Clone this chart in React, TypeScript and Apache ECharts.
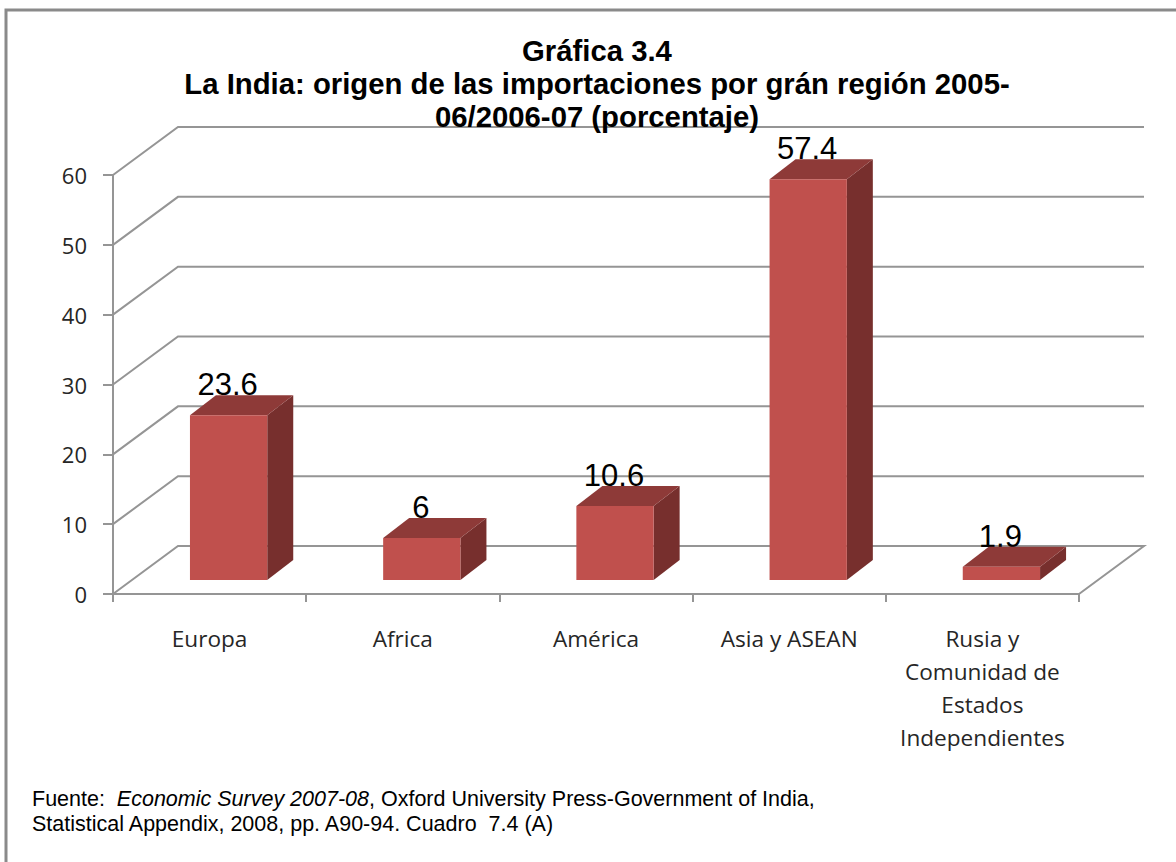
import React, { useEffect, useRef } from "react";
import * as echarts from "echarts";

const categories = ["Europa", "Africa", "América", "Asia y ASEAN", "Rusia y\nComunidad de\nEstados\nIndependientes"];
const values = [23.6, 6, 10.6, 57.4, 1.9];
const yTicks = [0, 10, 20, 30, 40, 50, 60];
const titleLines = [
  "Gráfica 3.4",
  "La India: origen de las importaciones por grán región 2005-",
  "06/2006-07 (porcentaje)",
];

const LINE = "#959595";
const WALL_DX = 65;
const WALL_DY = -48;
const TICK = 10;
const BAR_SHIFT_X = 19;
const BAR_SHIFT_Y = -14;
const BAR_DX = 26;
const BAR_DY = -20;
const BAR_RATIO = 0.4;
const FRONT = "#c0504d";
const SIDE = "#772f2d";
const TOP = "#8e3a38";

export default function App() {
  const ref = useRef<HTMLDivElement>(null);
  useEffect(() => {
    document.body.style.margin = "0";
    const chart = echarts.init(ref.current!, undefined, { renderer: "svg" });
    const renderGrid = (params: any, api: any) => {
      const cs = params.coordSys;
      const y = api.coord([0, api.value(1)])[1];
      const x0 = cs.x;
      const x1 = cs.x + cs.width;
      const isFloor = api.value(1) === 0;
      const points: number[][] = [
        [x0, y],
        [x0 + WALL_DX, y + WALL_DY],
        [x1 + WALL_DX, y + WALL_DY],
      ];
      if (isFloor) points.push([x1, y]);
      return {
        type: "polyline",
        shape: { points },
        style: { stroke: LINE, lineWidth: 2, fill: "none" },
      };
    };
    const renderBar = (params: any, api: any) => {
      const value = api.value(1);
      const top = api.coord([api.value(0), value]);
      const base = api.coord([api.value(0), 0]);
      const w = api.size([1, 0])[0] * BAR_RATIO;
      const l = top[0] - w / 2 + BAR_SHIFT_X;
      const r = l + w;
      const t = top[1] + BAR_SHIFT_Y;
      const b = base[1] + BAR_SHIFT_Y;
      return {
        type: "group",
        children: [
          {
            type: "text",
            style: {
              x: l + w / 2 - 1,
              y: t - 15,
              text: String(value),
              fill: "#000",
              font: "31px 'Liberation Sans', Arial, sans-serif",
              align: "center",
              verticalAlign: "bottom",
            },
          },
          {
            type: "polygon",
            shape: { points: [[r, t], [r + BAR_DX, t + BAR_DY], [r + BAR_DX, b + BAR_DY], [r, b]] },
            style: { fill: SIDE },
          },
          {
            type: "polygon",
            shape: { points: [[l, t], [l + BAR_DX, t + BAR_DY], [r + BAR_DX, t + BAR_DY], [r, t]] },
            style: { fill: TOP },
          },
          { type: "rect", shape: { x: l, y: t, width: w, height: b - t }, style: { fill: FRONT } },
        ],
      };
    };
    chart.setOption({
      animation: false,
      backgroundColor: "#fff",
      title: {
        text: titleLines.join("\n"),
        left: 592,
        top: 29,
        textAlign: "center",
        textStyle: {
          fontFamily: "'Liberation Sans', Arial, sans-serif",
          fontWeight: "bold",
          fontSize: 29.3,
          lineHeight: 33,
          color: "#000",
        },
      },
      grid: { left: 113, right: 97, top: 175, bottom: 268 },
      xAxis: {
        type: "category",
        data: categories,
        z: 5,
        axisLine: { show: true, lineStyle: { color: LINE, width: 2 } },
        axisTick: { show: true, length: 8, lineStyle: { color: LINE, width: 2 } },
        axisLabel: {
          interval: 0,
          margin: 28,
          color: "#262626",
          fontFamily: "'Open Sans', sans-serif",
          fontSize: 22.6,
          lineHeight: 33,
        },
      },
      yAxis: {
        type: "value",
        min: 0,
        max: 60,
        interval: 10,
        z: 5,
        splitLine: { show: false },
        axisLine: { show: true, lineStyle: { color: LINE, width: 2 } },
        axisTick: { show: true, length: TICK, lineStyle: { color: LINE, width: 2 } },
        axisLabel: {
          margin: 26,
          color: "#262626",
          fontFamily: "'Open Sans', sans-serif",
          fontSize: 22,
          padding: [3, 0, 0, 0],
        },
      },
      series: [
        {
          type: "custom",
          name: "grid",
          renderItem: renderGrid,
          data: yTicks.map((t) => [0, t]),
          encode: { x: 0, y: 1 },
          clip: false,
          z: 1,
          silent: true,
        },
        {
          type: "custom",
          name: "Importaciones",
          renderItem: renderBar,
          data: values.map((v, i) => [i, v]),
          encode: { x: 0, y: 1 },
          clip: false,
          z: 3,
          silent: true,
        },
      ],
      graphic: [
        {
          type: "rect",
          shape: { x: 6, y: 10, width: 1300, height: 1000 },
          style: { fill: "none", stroke: "#8a8a8a", lineWidth: 3 },
          silent: true,
          z: 10,
        },
        {
          type: "text",
          x: 32,
          y: 786,
          silent: true,
          style: {
            text: "{n|Fuente:  }{i|Economic Survey 2007-08}{n|, Oxford University Press-Government of India,}\n{n|Statistical Appendix, 2008, pp. A90-94. Cuadro  7.4 (A)}",
            fill: "#000",
            font: "21.5px 'Liberation Sans', Arial, sans-serif",
            lineHeight: 25,
            rich: {
              n: { font: "21.5px 'Liberation Sans', Arial, sans-serif", lineHeight: 25, fill: "#000" },
              i: { font: "italic 21.5px 'Liberation Sans', Arial, sans-serif", lineHeight: 25, fill: "#000" },
            },
          },
        },
      ],
    });
    return () => chart.dispose();
  }, []);
  return <div ref={ref} style={{ width: 1176, height: 862 }} />;
}
